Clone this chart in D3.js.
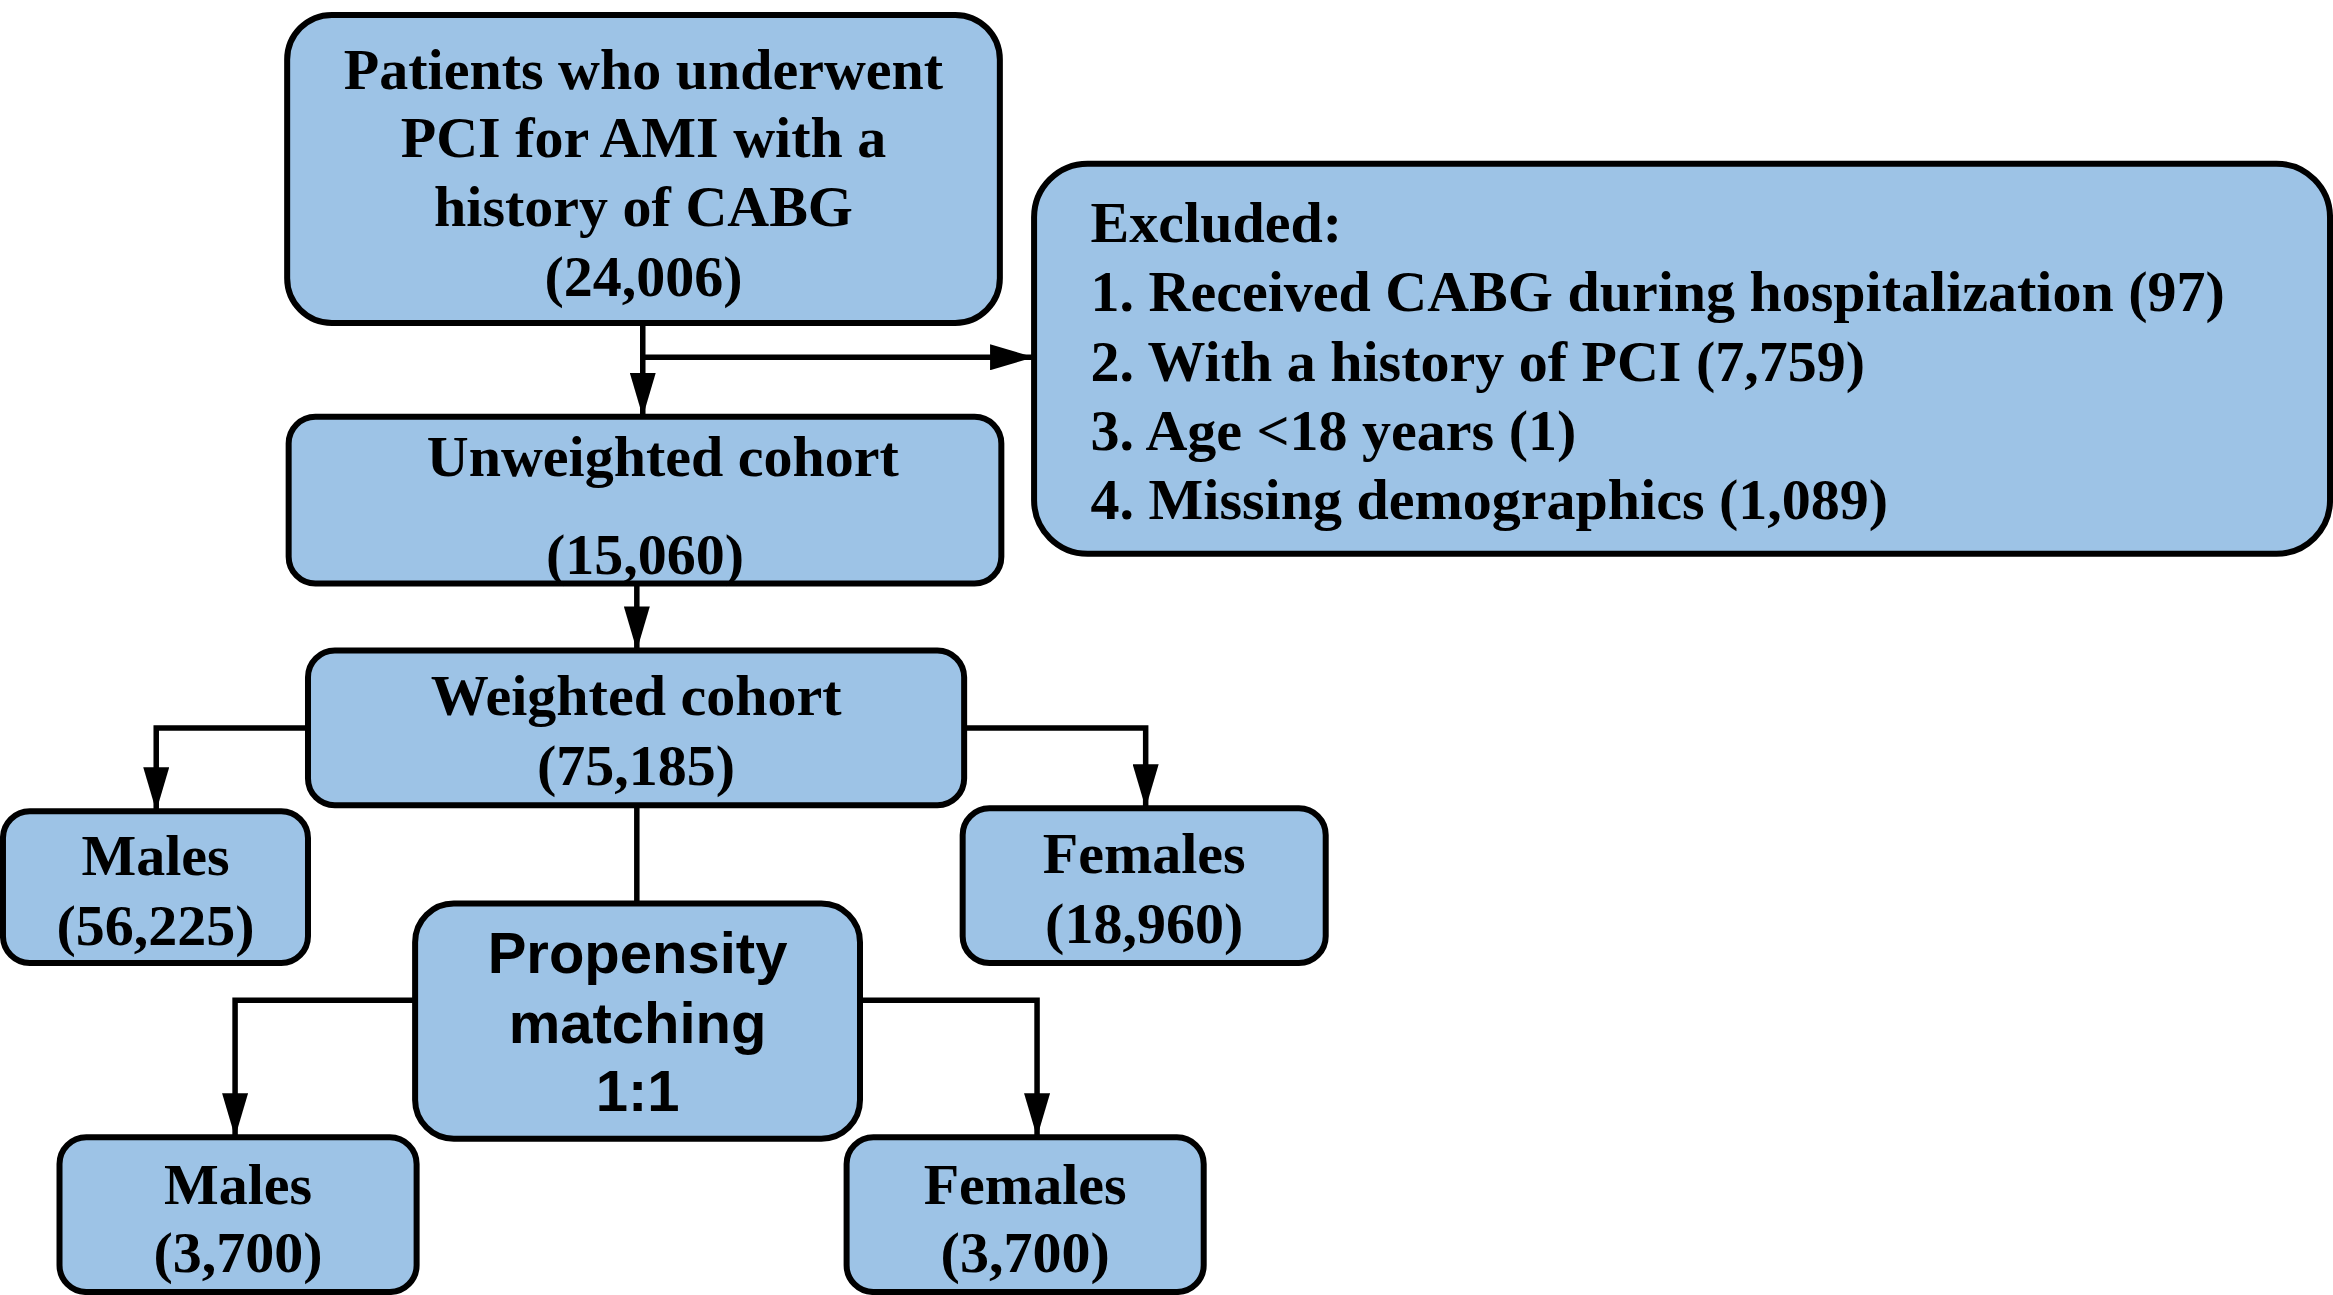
<!DOCTYPE html>
<html>
<head>
<meta charset="utf-8">
<script src="https://cdn.jsdelivr.net/npm/d3@7"></script>
<style>
  body { margin: 0; background: #fff; }
</style>
</head>
<body>
<script>
// flowchart values
const stageNames = ["Patients who underwent|PCI for AMI with a|history of CABG", "Unweighted cohort", "Weighted cohort",
  "Males", "Females", "Propensity|matching|1:1", "Males", "Females"]
const stageCounts = ["24,006", "15,060", "75,185", "56,225", "18,960", "", "3,700", "3,700"]
const excludedTitle = "Excluded:"
const excludedReasons = ["Received CABG during hospitalization", "With a history of PCI", "Age <18 years", "Missing demographics"]
const excludedCounts = ["97", "7,759", "1", "1,089"]

let width = 2333
let height = 1295

// layout in reference units (1568 x 870 space)
const boxes = [
  { x0: 193, y0: 10, x1: 672, y1: 217, r: 30, lines: [46, 92, 138, 185] },
  { x0: 194, y0: 280, x1: 673, y1: 392, r: 18, lines: [306, 372], shift: [12, 0] },
  { x0: 207, y0: 437, x1: 648, y1: 541, r: 18, lines: [467, 514] },
  { x0: 2, y0: 545, x1: 207, y1: 647, r: 18, lines: [574, 621] },
  { x0: 647, y0: 543, x1: 891, y1: 647, r: 18, lines: [573, 620] },
  { x0: 279, y0: 607, x1: 578, y1: 765, r: 26, lines: [640, 687, 733], sans: true },
  { x0: 40, y0: 764, x1: 280, y1: 868, r: 18, lines: [795, 841] },
  { x0: 569, y0: 764, x1: 809, y1: 868, r: 18, lines: [795, 841] }
]
const exBox = { x0: 695, y0: 110, x1: 1566, y1: 372, r: 36, tx: 733, lines: [149, 195, 242, 289, 335] }

const links = [
  { pts: [[432, 217], [432, 280]], arrow: true },
  { pts: [[432, 240], [695, 240]], arrow: true },
  { pts: [[428, 392], [428, 437]], arrow: true },
  { pts: [[207, 489], [105, 489], [105, 545]], arrow: true },
  { pts: [[648, 489], [770, 489], [770, 543]], arrow: true },
  { pts: [[428, 541], [428, 607]], arrow: false },
  { pts: [[279, 672], [158, 672], [158, 764]], arrow: true },
  { pts: [[578, 672], [697, 672], [697, 764]], arrow: true }
]

const x = d3.scaleLinear().domain([0, 1568]).range([0, width])
const y = d3.scaleLinear().domain([0, 870]).range([0, height])

const svg = d3.select("body").append("svg")
  .attr("width", width)
  .attr("height", height)

// arrow head, drawn pointing along +x
svg.append("defs").append("marker")
  .attr("id", "arr")
  .attr("viewBox", "0 0 44 26")
  .attr("refX", 44).attr("refY", 13)
  .attr("markerWidth", 44).attr("markerHeight", 26)
  .attr("markerUnits", "userSpaceOnUse")
  .attr("orient", "auto")
  .append("path")
  .attr("d", "M0,0 L44,13 L0,26 Z")

const line = d3.line().x(d => x(d[0])).y(d => y(d[1]))

svg.append("g").selectAll("path")
  .data(links)
  .join("path")
  .attr("d", d => line(d.pts))
  .attr("fill", "none")
  .attr("stroke", "#000")
  .attr("stroke-width", 5.5)
  .attr("marker-end", d => d.arrow ? "url(#arr)" : null)

const fill = "#9dc3e6"
const serif = "Liberation Serif, Times New Roman, serif"

// stage boxes
const g = svg.append("g").selectAll("g")
  .data(boxes)
  .join("g")

g.append("rect")
  .attr("x", d => x(d.x0)).attr("y", d => y(d.y0))
  .attr("width", d => x(d.x1) - x(d.x0))
  .attr("height", d => y(d.y1) - y(d.y0))
  .attr("rx", d => x(d.r))
  .attr("fill", fill)
  .attr("stroke", "#000")
  .attr("stroke-width", 6)

g.each(function (d, i) {
  let texts = stageNames[i].split("|")
  if (stageCounts[i]) texts.push("(" + stageCounts[i] + ")")
  const cx = (d.x0 + d.x1) / 2
  d3.select(this).selectAll("text")
    .data(texts)
    .join("text")
    .attr("x", (t, j) => x(cx + (d.shift ? d.shift[j] : 0)))
    .attr("y", (t, j) => y(d.lines[j]))
    .attr("dy", "0.35em")
    .attr("text-anchor", "middle")
    .attr("font-family", d.sans ? "Liberation Sans, Arial, sans-serif" : serif)
    .attr("font-weight", "bold")
    .attr("font-size", 58)
    .text(t => t)
})

// exclusion box
svg.append("rect")
  .attr("x", x(exBox.x0)).attr("y", y(exBox.y0))
  .attr("width", x(exBox.x1) - x(exBox.x0))
  .attr("height", y(exBox.y1) - y(exBox.y0))
  .attr("rx", x(exBox.r))
  .attr("fill", fill)
  .attr("stroke", "#000")
  .attr("stroke-width", 6)

const exTexts = [excludedTitle].concat(excludedReasons.map((r, i) => (i + 1) + ". " + r + " (" + excludedCounts[i] + ")"))
svg.append("g").selectAll("text")
  .data(exTexts)
  .join("text")
  .attr("x", x(exBox.tx))
  .attr("y", (t, j) => y(exBox.lines[j]))
  .attr("dy", "0.35em")
  .attr("font-family", serif)
  .attr("font-weight", "bold")
  .attr("font-size", 58)
  .text(t => t)
</script>
</body>
</html>
